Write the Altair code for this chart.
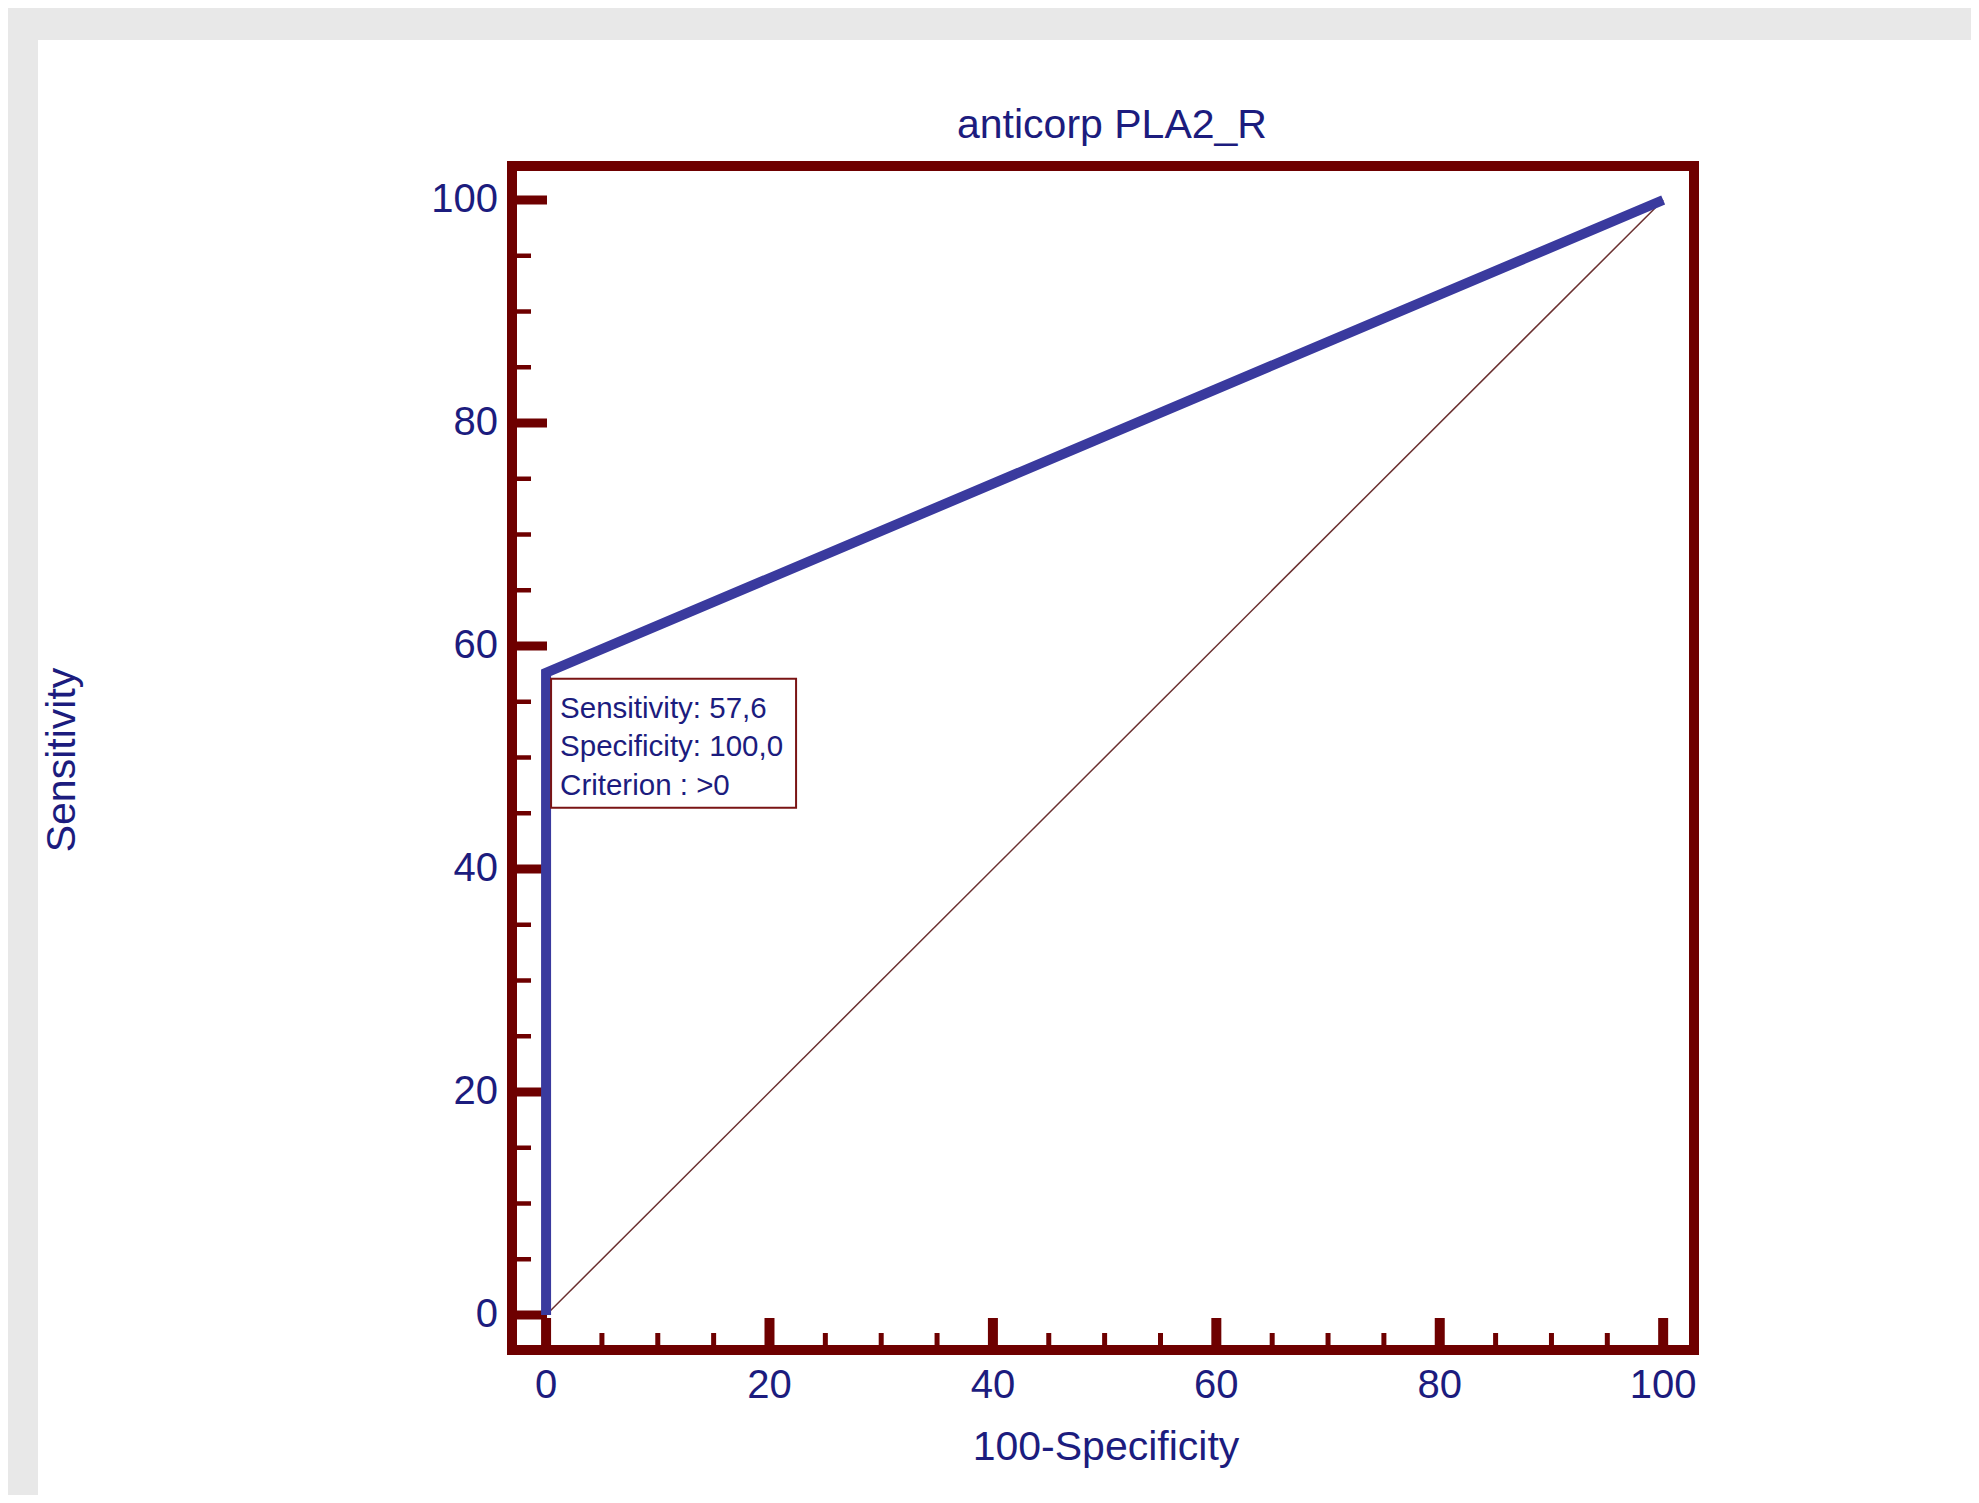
import altair as alt
import pandas as pd

# ---- chart text ----
title_text = "anticorp PLA2_R"
x_title = "100-Specificity"
y_title = "Sensitivity"

# ---- data ----
roc_fpr = [0, 0, 100]          # 100 - specificity
roc_sens = [0, 57.6, 100]      # sensitivity
ref_fpr = [0, 100]             # chance diagonal
ref_sens = [0, 100]
major_ticks = [0, 20, 40, 60, 80, 100]
minor_ticks = [5, 10, 15, 25, 30, 35, 45, 50, 55, 65, 70, 75, 85, 90, 95]
cut_fpr = [0]
cut_sens = [57.6]
box_lines = ["Sensitivity: 57,6", "Specificity: 100,0", "Criterion : >0"]

# ---- layout / style ----
W, H = 1182, 1184
X_DOM = [-3.05, 102.76]
Y_DOM = [-3.14, 103.05]
FRAME = "#6e0000"
BLUE = "#3a3a9e"
NAVY = "#1c1c7e"
DIAG = "#6b3030"
FONT = "Liberation Sans"
GRAY = "#e8e8e8"
PAD = dict(left=504, top=158, right=277, bottom=145)

xs = alt.Scale(domain=X_DOM, nice=False, zero=False)
ys = alt.Scale(domain=Y_DOM, nice=False, zero=False)

roc_df = pd.DataFrame({"fpr": roc_fpr, "sens": roc_sens, "i": list(range(len(roc_fpr)))})
ref_df = pd.DataFrame({"fpr": ref_fpr, "sens": ref_sens})
maj_df = pd.DataFrame({"v": major_ticks, "lab": [str(v) for v in major_ticks]})
min_df = pd.DataFrame({"v": minor_ticks})
cut_df = pd.DataFrame({"fpr": cut_fpr, "sens": cut_sens})
one_df = pd.DataFrame({"k": [0]})


def X(field):
    return alt.X(field, scale=xs, axis=None)


def Y(field):
    return alt.Y(field, scale=ys, axis=None)


# grey page bands (decoration around the white panel)
band_top = alt.Chart(one_df).mark_rect(color=GRAY).encode(
    x=alt.value(-PAD["left"]), x2=alt.value(W + PAD["right"]),
    y=alt.value(-PAD["top"]), y2=alt.value(-PAD["top"] + 32),
)
band_left = alt.Chart(one_df).mark_rect(color=GRAY).encode(
    x=alt.value(-PAD["left"]), x2=alt.value(-PAD["left"] + 30),
    y=alt.value(-PAD["top"]), y2=alt.value(H + PAD["bottom"]),
)

diag = alt.Chart(ref_df).mark_line(color=DIAG, strokeWidth=1.5).encode(
    x=X("fpr:Q"), y=Y("sens:Q"),
)

# tick marks (inward, drawn from the tick value lists through the scales)
y_major = alt.Chart(maj_df).mark_rule(color=FRAME, strokeWidth=9).encode(
    y=Y("v:Q"), x=alt.value(0), x2=alt.value(35)
)
y_minor = alt.Chart(min_df).mark_rule(color=FRAME, strokeWidth=4.5).encode(
    y=Y("v:Q"), x=alt.value(0), x2=alt.value(19)
)
x_major = alt.Chart(maj_df).mark_rule(color=FRAME, strokeWidth=10).encode(
    x=X("v:Q"), y=alt.value(H), y2=alt.value(H - 32)
)
x_minor = alt.Chart(min_df).mark_rule(color=FRAME, strokeWidth=5).encode(
    x=X("v:Q"), y=alt.value(H), y2=alt.value(H - 17)
)

# tick labels
y_labels = alt.Chart(maj_df).mark_text(
    align="right", baseline="middle", fontSize=40, font=FONT, color=NAVY
).encode(y=Y("v:Q"), x=alt.value(-14), text="lab:N")
x_labels = alt.Chart(maj_df).mark_text(
    align="center", baseline="top", fontSize=40, font=FONT, color=NAVY
).encode(x=X("v:Q"), y=alt.value(H + 16), text="lab:N")

# axis titles
x_title_mark = alt.Chart(pd.DataFrame({"t": [x_title]})).mark_text(
    align="center", baseline="alphabetic", fontSize=41, font=FONT, color=NAVY
).encode(x=alt.value(594), y=alt.value(H + 110), text="t:N")
y_title_mark = alt.Chart(pd.DataFrame({"t": [y_title]})).mark_text(
    align="center", baseline="alphabetic", fontSize=41, font=FONT, color=NAVY,
    angle=270,
).encode(x=alt.value(-437), y=alt.value(594), text="t:N")

roc = alt.Chart(roc_df).mark_line(color=BLUE, strokeWidth=10, strokeJoin="miter").encode(
    x=X("fpr:Q"), y=Y("sens:Q"), order="i:Q",
)

box = alt.Chart(cut_df).mark_rect(
    fill="white", stroke="#7a1414", strokeWidth=2,
    xOffset=5, x2Offset=250, yOffset=6, y2Offset=135,
).encode(
    x=X("fpr:Q"), x2="fpr", y=Y("sens:Q"), y2="sens",
)

box_text = alt.Chart(cut_df).mark_text(
    align="left", baseline="middle", dx=14, dy=36, fontSize=29.5,
    lineHeight=38.5, font=FONT, color=NAVY,
).encode(
    x=X("fpr:Q"), y=Y("sens:Q"), text=alt.value(box_lines),
)

title_mark = alt.Chart(pd.DataFrame({"t": [title_text]})).mark_text(
    fontSize=41, font=FONT, color=NAVY, align="center", baseline="alphabetic"
).encode(x=alt.value(W / 2 + 9), y=alt.value(-28), text="t:N")

chart = alt.layer(
    band_top, band_left, diag, y_minor, y_major, x_minor, x_major,
    y_labels, x_labels, x_title_mark, y_title_mark,
    roc, box, box_text, title_mark,
).properties(
    width=W, height=H, padding=PAD,
    autosize=alt.AutoSizeParams(type="none"),
    background="white",
).configure_view(
    stroke=FRAME, strokeWidth=10, strokeJoin="miter"
)

chart.save("out.html", embed_options={"renderer": "svg", "actions": False})
